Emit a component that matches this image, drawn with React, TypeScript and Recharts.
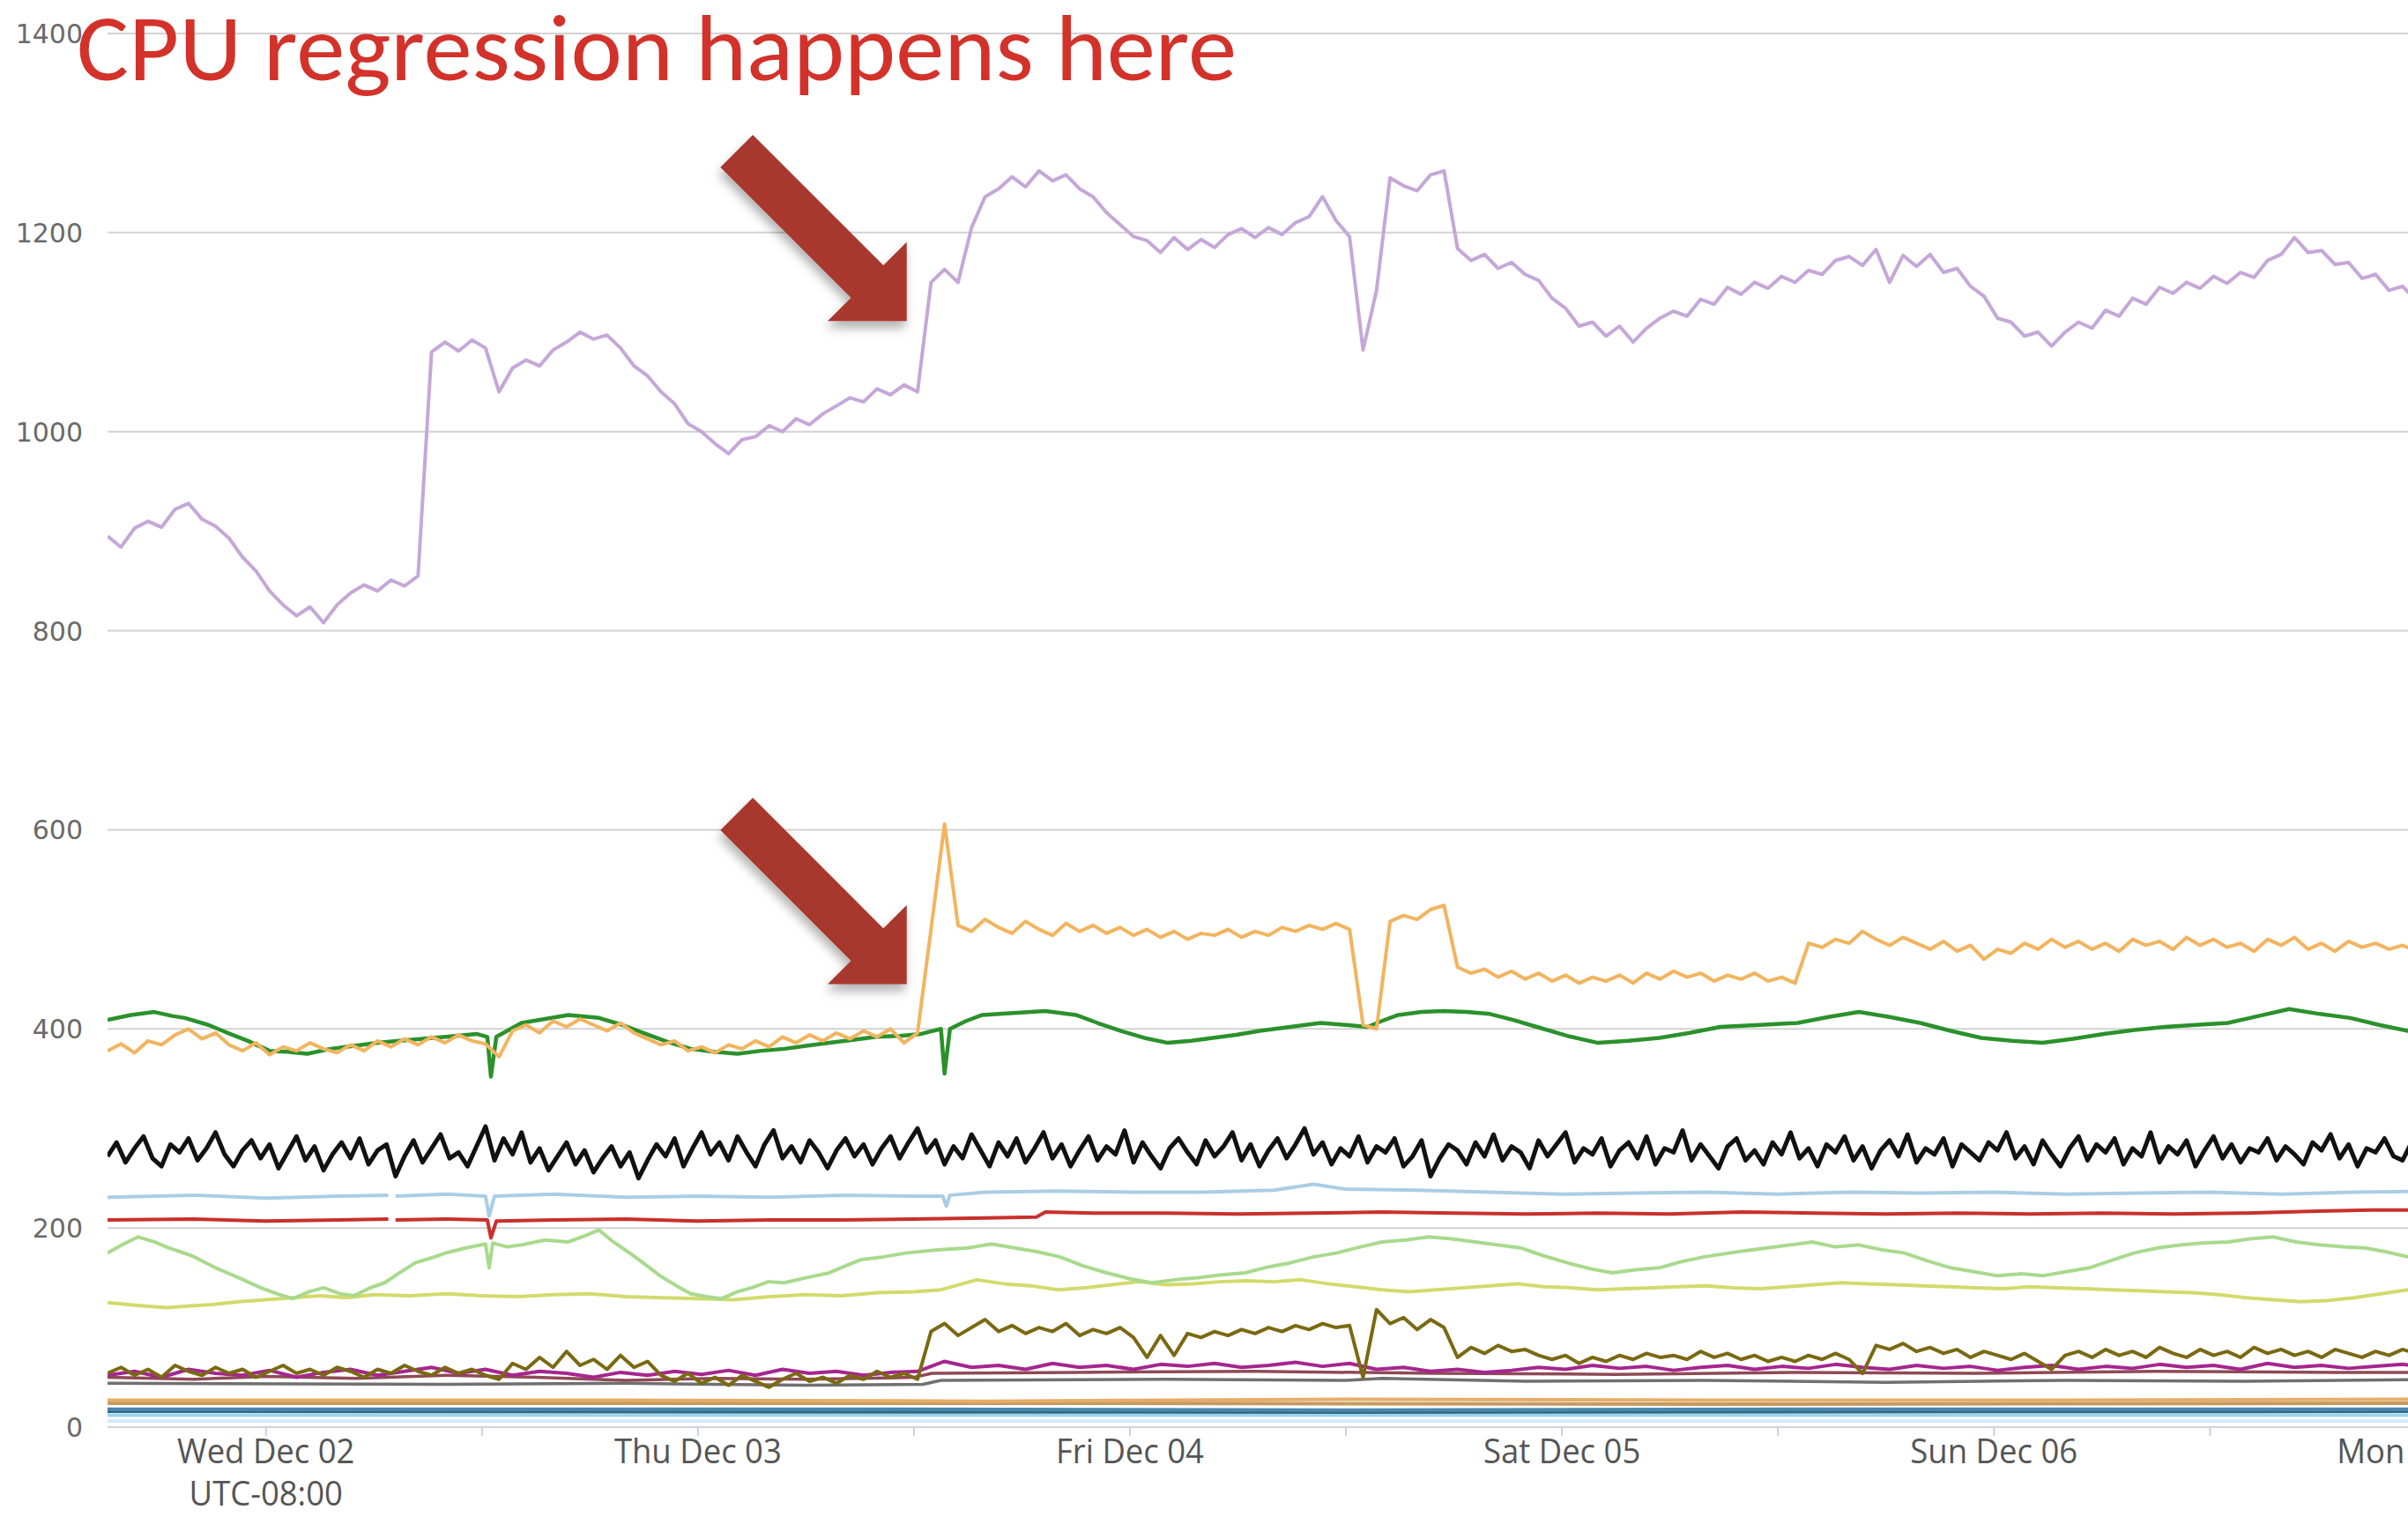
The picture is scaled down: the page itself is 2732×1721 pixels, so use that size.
import React from 'react';
import { LineChart, Line, XAxis, YAxis, CartesianGrid, ReferenceDot } from 'recharts';

// ---- time grid (hours from Wed Dec 02 00:00 UTC-08:00) ----
const T0 = -8.8;
const STEP = 0.75;
const STEP_FINE = 0.5;
const STEP_WIDE = 1.5;

// ---- tick labels ----
const Y_TICKS = [0, 200, 400, 600, 800, 1000, 1200, 1400];
const X_TICKS = [0, 12, 24, 36, 48, 60, 72, 84, 96, 108, 120];
const DAY_LABELS: Record<number, string> = {
  0: 'Wed Dec 02',
  24: 'Thu Dec 03',
  48: 'Fri Dec 04',
  72: 'Sat Dec 05',
  96: 'Sun Dec 06',
  120: 'Mon Dec 07',
};
const TZ_LABEL = 'UTC-08:00';
const TITLE = 'CPU regression happens here';

// ---- series values (regular 0.75h grid) ----
const purpleValues = [
  895, 884, 903, 910, 904, 922, 928, 912, 905, 893, 874, 860, 840, 826, 815, 824, 808, 826, 838, 846, 840, 851, 845, 855,
  1080, 1090, 1081, 1092, 1084, 1040, 1064, 1072, 1066, 1082, 1090, 1100, 1093, 1097, 1084, 1066, 1056, 1040, 1028, 1008,
  1000, 988, 978, 992, 995, 1006, 1000, 1013, 1007, 1018, 1026, 1034, 1030, 1043, 1037, 1047, 1040,
  1150, 1163, 1150, 1205, 1236, 1244, 1256, 1246, 1262, 1252, 1258, 1244, 1236, 1220, 1208, 1196, 1192, 1180, 1195, 1183,
  1193, 1185, 1198, 1204, 1195, 1205, 1198, 1210, 1216, 1236, 1212, 1196, 1082, 1142,
  1255, 1247, 1242, 1258, 1262, 1184, 1172, 1178, 1164, 1170, 1158, 1152, 1134, 1124, 1106, 1110, 1096, 1106, 1090, 1104,
  1114, 1121, 1116, 1133, 1128, 1145, 1138, 1150, 1144, 1156, 1150, 1162, 1158, 1172, 1176, 1167, 1183, 1150, 1177, 1166,
  1178, 1160, 1164, 1146, 1136, 1114, 1110, 1096, 1100, 1086, 1100, 1110, 1104, 1122, 1116, 1134, 1128, 1145, 1139, 1150,
  1144, 1156, 1149, 1160, 1155, 1172, 1178, 1195, 1180, 1182, 1168, 1170, 1154, 1158, 1142, 1146, 1132,
];

const orangeValues = [
  378, 385, 376, 388, 384, 394, 400, 390, 396, 384, 378, 386, 374, 382, 378, 386, 380, 376, 384, 378, 388, 382, 390, 384,
  392, 386, 394, 388, 385, 372, 398, 404, 396, 408, 402, 410, 404, 398, 406, 396, 390, 384, 388, 378,
  382, 376, 384, 380, 388, 382, 392, 386, 394, 388, 396, 390, 398, 392, 400, 386, 396,
  500, 606, 504, 498, 510, 502, 496, 508, 500, 494, 506, 498, 504, 496, 502, 494, 500, 492, 498, 490,
  496, 494, 500, 492, 498, 494, 502, 498, 504, 500, 506, 500, 404, 400,
  508, 514, 510, 520, 524, 462, 456, 460, 452, 458, 450, 456, 448, 454, 446, 452, 448, 454, 446, 456,
  450, 458, 452, 456, 448, 454, 450, 456, 448, 452, 446, 486, 482, 490, 486, 498, 490, 484, 492, 486,
  480, 488, 478, 484, 470, 480, 476, 486, 480, 490, 482, 488, 480, 486, 478, 490, 484, 488, 480, 492,
  484, 490, 482, 486, 478, 490, 484, 492, 480, 486, 478, 488, 482, 486, 480, 484, 478,
];

const oliveValues = [
  54, 60, 52, 58, 50, 62, 56, 52, 60, 54, 58, 50, 56, 62, 54, 58, 52, 60, 56, 50, 58, 54, 62, 56, 52, 60, 54, 58, 52,
  48, 64, 58, 70, 60, 76, 62, 68, 58, 72, 60, 66,
  52, 46, 54, 44, 50, 42, 52, 46, 40, 48, 54, 46, 50, 44, 52, 48, 56, 50, 54, 48,
  96, 104, 92, 100, 108, 96, 102, 94, 100, 96, 104, 92, 98, 94, 100, 90, 70, 92, 72, 94,
  90, 96, 92, 98, 94, 100, 96, 102, 98, 104, 100, 102, 50, 118, 104, 110, 98, 108, 100, 70,
  80, 74, 82, 76, 78, 72, 68, 72, 64, 70, 66, 72, 68, 74, 70, 72, 68, 76, 70, 74,
  68, 72, 66, 70, 66, 72, 68, 74, 68, 54, 82, 78, 84, 76, 80, 74, 78, 70, 76, 72,
  68, 74, 66, 58, 72, 76, 70, 78, 72, 76, 70, 80, 74, 70, 78, 72, 76, 70, 80, 74,
  78, 72, 76, 70, 78, 74, 70, 76, 72, 78, 74,
];

// ---- series values (regular 0.5h grid) ----
const blackValues = [
  272, 286, 266, 280, 292, 270, 262, 284, 276, 290,
  268, 280, 296, 274, 262, 278, 288, 270, 284, 260,
  276, 292, 268, 282, 258, 274, 286, 270, 290, 264,
  278, 284, 252, 272, 288, 266, 280, 294, 270, 276,
  262, 282, 302, 268, 290, 274, 296, 266, 280, 258,
  272, 286, 264, 278, 256, 270, 282, 262, 276, 250,
  268, 284, 272, 290, 262, 280, 296, 274, 286, 268,
  292, 276, 262, 284, 298, 270, 282, 266, 288, 276,
  260, 278, 290, 272, 284, 264, 280, 292, 270, 286,
  300, 276, 288, 264, 282, 270, 294, 278, 262, 286,
  272, 290, 266, 280, 296, 270, 284, 262, 278, 292,
  268, 282, 274, 298, 266, 286, 272, 260, 280, 290,
  276, 264, 288, 272, 282, 296, 268, 284, 262, 278,
  290, 270, 284, 300, 274, 286, 264, 280, 272, 292,
  266, 282, 276, 290, 262, 272, 288, 252, 270, 284,
  278, 264, 286, 272, 294, 268, 282, 276, 260, 288,
  272, 284, 296, 266, 280, 274, 290, 262, 278, 286,
  270, 292, 264, 280, 276, 298, 268, 284, 272, 260,
  282, 290, 268, 278, 264, 286, 274, 296, 270, 280,
  262, 284, 276, 292, 268, 282, 260, 278, 288, 272,
  294, 266, 280, 274, 290, 262, 284, 276, 268, 286,
  278, 296, 270, 282, 264, 288, 274, 262, 280, 292,
  268, 284, 276, 290, 264, 280, 272, 296, 266, 282,
  274, 288, 262, 278, 292, 270, 284, 266, 280, 276,
  290, 268, 282, 274, 264, 286, 278, 294, 270, 284,
  262, 280, 276, 290, 272, 268, 286, 280, 274, 288,
];

// ---- series values (regular 1.5h grid) ----
const magentaValues = [
  52, 56, 50, 58, 54, 52, 57, 50, 55, 58, 52, 56, 60, 54, 58, 52, 56, 54, 50, 55, 52, 56, 53, 57, 52, 58, 54, 56, 52, 55, 56,
  66,
  60, 62, 58, 64, 60, 62, 58, 63, 61, 64, 60, 62, 65, 61, 64, 58, 60, 56, 58, 55, 57, 60, 58, 62, 59, 61, 57, 60, 62, 58,
  61, 59, 63, 60, 58, 62, 59, 61, 57, 60, 62, 58, 61, 59, 63, 60, 62, 58, 64, 60, 62, 59, 61, 63, 60,
];

// ---- series values ([hour, value] pairs) ----
const greenPoints: [number, number][] = [
  [-8.8, 409], [-7.5, 414], [-6.2, 417], [-5.2, 413], [-4.5, 411], [-3.2, 404], [-2.0, 395], [-1.0, 388], [0.2, 378],
  [1.2, 377], [2.3, 375], [3.6, 380], [4.9, 383], [6.2, 386], [7.4, 388], [8.7, 390], [10.0, 392], [11.7, 395],
  [12.3, 392], [12.5, 352], [12.8, 392], [14.2, 406], [15.5, 410], [16.8, 414], [18.5, 411], [19.8, 404], [21.1, 395],
  [22.3, 387], [23.6, 380], [24.9, 377], [26.2, 375], [27.5, 378], [28.8, 380], [30.0, 383], [31.3, 386], [32.6, 389],
  [33.9, 392], [35.2, 393], [36.4, 395], [37.5, 400], [37.7, 355], [38.0, 400], [38.9, 408], [39.8, 414], [41.5, 416],
  [43.3, 418], [45.0, 414], [46.2, 406], [47.5, 398], [48.8, 391], [50.1, 386], [51.4, 388], [52.6, 391], [53.9, 394],
  [55.2, 398], [56.9, 402], [58.6, 406], [60.0, 404], [61.2, 402], [62.0, 408], [62.9, 414], [64.2, 417], [65.4, 418],
  [66.7, 417], [68.0, 415], [69.3, 409], [70.6, 402], [72.3, 393], [74.0, 386], [75.7, 388], [77.4, 391], [79.1, 396],
  [80.8, 402], [83.0, 404], [85.1, 406], [86.8, 412], [88.5, 417], [90.2, 412], [91.9, 406], [93.6, 398], [95.3, 391],
  [97.0, 388], [98.7, 386], [100.4, 390], [102.1, 395], [103.8, 399], [105.5, 402], [107.2, 404], [109.0, 406],
  [110.7, 413], [112.4, 420], [114.1, 415], [115.8, 411], [117.4, 404], [119.0, 398], [120.5, 395],
];

const lightBluePoints: [number, number | null][] = [
  [-8.8, 231], [-4, 233], [0, 230], [4, 232], [6.8, 233], [7.0, null], [7.2, 232], [10, 234], [12.2, 232], [12.4, 212],
  [12.7, 232], [16, 234], [20, 231], [24, 232], [28, 231], [32, 233], [36, 232], [37.6, 232], [37.8, 222], [38.0, 233],
  [40, 236], [44, 237], [48, 236], [52, 236], [56, 238], [58.2, 244], [60, 239], [64, 238], [68, 236], [72, 234],
  [76, 235], [80, 236], [84, 234], [88, 236], [92, 235], [96, 236], [100, 234], [104, 235], [108, 236], [112, 234],
  [116, 236], [121, 237],
];

const redPoints: [number, number | null][] = [
  [-8.8, 208], [-4, 209], [0, 207], [4, 208], [6.8, 209], [7.0, null], [7.2, 208], [10, 209], [12.3, 208], [12.5, 190],
  [12.8, 207], [16, 208], [20, 209], [24, 207], [28, 208], [32, 208], [36, 209], [40, 210], [42.8, 211], [43.3, 216],
  [46, 215], [50, 215], [54, 214], [58, 215], [62, 216], [66, 215], [70, 214], [74, 215], [78, 214], [82, 216],
  [86, 215], [90, 214], [94, 215], [98, 214], [102, 215], [106, 214], [110, 215], [114, 217], [117, 218], [121, 218],
];

const lightGreenPoints: [number, number][] = [
  [-8.8, 175], [-7.9, 184], [-7.1, 191], [-6.2, 186], [-5.4, 180], [-4.1, 172], [-2.8, 160], [-1.5, 150], [-0.3, 140],
  [0.6, 134], [1.5, 129], [2.4, 136], [3.2, 140], [4.1, 134], [4.9, 132], [5.8, 140], [6.6, 145], [7.5, 156],
  [8.3, 165], [9.2, 170], [10.0, 175], [11.1, 180], [12.2, 184], [12.4, 160], [12.6, 185], [13.4, 181], [14.2, 183],
  [15.5, 188], [16.8, 186], [17.7, 192], [18.5, 198], [19.3, 186], [20.2, 175], [21.1, 163], [21.9, 152], [22.8, 142],
  [23.6, 134], [24.5, 131], [25.3, 129], [26.2, 136], [27.0, 140], [27.9, 146], [28.8, 145], [30.0, 150], [31.3, 155],
  [32.2, 162], [33.0, 168], [34.3, 171], [35.6, 175], [37.3, 178], [39.0, 180], [40.3, 184], [41.6, 180], [42.9, 176],
  [44.1, 171], [45.4, 162], [46.7, 155], [48.0, 149], [49.2, 145], [50.5, 148], [51.8, 150], [53.1, 153], [54.4, 155],
  [55.7, 161], [56.9, 165], [58.2, 171], [59.5, 175], [60.8, 181], [62.0, 186], [63.3, 188], [64.6, 191], [65.9, 189],
  [67.2, 186], [68.4, 183], [69.7, 180], [71.0, 172], [72.3, 165], [73.6, 159], [74.8, 155], [76.1, 158], [77.4, 160],
  [78.6, 166], [79.9, 171], [81.7, 176], [83.4, 180], [84.7, 183], [85.9, 186], [87.2, 181], [88.5, 183], [89.8, 178],
  [91.0, 175], [92.3, 167], [93.6, 160], [94.9, 156], [96.2, 152], [97.5, 154], [98.7, 152], [100.0, 156], [101.3, 160],
  [102.6, 168], [103.8, 175], [105.1, 180], [106.4, 183], [107.7, 185], [109.0, 186], [110.2, 189], [111.5, 191],
  [112.8, 186], [114.1, 183], [115.4, 181], [116.6, 180], [117.8, 176], [119.0, 171], [120.5, 168],
];

const yellowPoints: [number, number][] = [
  [-8.8, 125], [-7.0, 122], [-5.5, 120], [-4.0, 122], [-3.0, 123], [-1.5, 126], [0, 128], [1.5, 130], [3, 132],
  [4.5, 130], [6, 133], [8, 132], [10, 134], [12, 132], [14, 131], [16, 133], [18, 134], [20, 131], [22, 130],
  [24, 129], [26, 128], [28, 131], [30, 133], [32, 132], [34, 135], [36, 136], [37.5, 138], [39.5, 148], [41, 144],
  [42.5, 142], [44, 138], [45.5, 140], [47, 143], [48.5, 146], [50, 143], [51.5, 144], [53, 146], [54.5, 147],
  [56, 146], [57.5, 148], [59, 144], [60.5, 141], [62, 138], [63.5, 136], [65, 138], [66.5, 140], [68, 142],
  [69.5, 144], [71, 141], [72.5, 140], [74, 138], [75.5, 139], [77, 140], [78.5, 141], [80, 142], [81.5, 140],
  [83, 139], [84.5, 141], [86, 143], [87.5, 145], [89, 144], [90.5, 143], [92, 142], [93.5, 141], [95, 140],
  [96.5, 139], [98, 141], [99.5, 140], [101, 139], [102.5, 138], [104, 137], [105.5, 136], [107, 135], [108.5, 133],
  [110, 130], [111.5, 128], [113, 126], [114.5, 127], [116, 130], [117.5, 134], [119, 138], [120.5, 140],
];

const maroonPoints: [number, number][] = [
  [-8.8, 50], [-4, 48], [0, 51], [5, 49], [10, 52], [15, 50], [20, 47], [25, 49], [30, 48], [36, 50], [37, 54],
  [45, 55], [55, 56], [65, 54], [75, 53], [85, 55], [95, 54], [105, 56], [115, 55], [121, 55],
];

const grayPoints: [number, number][] = [
  [-8.8, 44], [10, 43], [20, 44], [30, 42], [36.5, 43], [37.5, 47], [50, 48], [60, 47], [62, 49], [70, 46],
  [80, 47], [90, 45], [100, 47], [110, 46], [121, 48],
];

const tanPoints: [number, number][] = [[-8.8, 27], [20, 27], [40, 26], [60, 28], [80, 27], [100, 27], [121, 28]];
const brownTanPoints: [number, number][] = [[-8.8, 24], [40, 24], [80, 23], [121, 24]];
const steelPoints: [number, number][] = [[-8.8, 18], [30, 18], [60, 17], [90, 18], [121, 18]];
const tealPoints: [number, number][] = [[-8.8, 16], [60, 15], [121, 16]];
const skyPoints: [number, number][] = [[-8.8, 12], [60, 12], [121, 12]];
const palePoints: [number, number][] = [[-8.8, 6], [121, 6]];

// ---- annotation anchors (data coordinates of the arrow tips) ----
const ARROW_T = 35.6;
const ARROW_UPPER_V = 1111;
const ARROW_LOWER_V = 445;

// ---- helpers ----
const onGrid = (vals: number[], step: number) =>
  vals.map((v, i) => ({ t: Math.round((T0 + i * step) * 100) / 100, v }));
const fromPairs = (pairs: [number, number | null][]) => pairs.map(([t, v]) => ({ t, v }));

const purpleData = onGrid(purpleValues, STEP);
const orangeData = onGrid(orangeValues, STEP);
const blackData = onGrid(blackValues, STEP_FINE);
const oliveData = onGrid(oliveValues, STEP);
const magentaData = onGrid(magentaValues, STEP_WIDE);

// ---- layout ----
const W = 2732;
const H = 1721;
const CHART_W = 2879;
const X_DOMAIN: [number, number] = [-8.8, 126.2];

const YTick = (props: any) => {
  const { x, y, payload } = props;
  return (
    <text x={x} y={y} dy={11} textAnchor="end" fontFamily="'DejaVu Sans', Verdana, sans-serif" fontSize={30} fill="#6a6a6a">
      {payload.value}
    </text>
  );
};

const XTick = (props: any) => {
  const { x, y, payload } = props;
  const label = DAY_LABELS[payload.value];
  if (!label) return null;
  const ff = "'Open Sans', sans-serif";
  return (
    <g transform={`translate(${x},${y}) scale(0.935,1)`}>
      <text x={0} y={0} dy={31} textAnchor="middle" fontFamily={ff} fontSize={39} fill="#555">
        {label}
      </text>
      {payload.value === 0 && (
        <text x={0} y={0} dy={79} textAnchor="middle" fontFamily={ff} fontSize={39} fill="#555">
          {TZ_LABEL}
        </text>
      )}
    </g>
  );
};

const ArrowShape = (props: any) => {
  const { cx, cy } = props;
  if (cx == null || cy == null) return null;
  const headLen = 63.5;
  const headHalf = 63.5;
  const shaftHalf = 26;
  const total = 273;
  const d = [Math.SQRT1_2, Math.SQRT1_2];
  const n = [-Math.SQRT1_2, Math.SQRT1_2];
  const p = (a: number, b: number) => `${cx + d[0] * a + n[0] * b},${cy + d[1] * a + n[1] * b}`;
  const pts = [
    p(0, 0),
    p(-headLen, headHalf),
    p(-headLen, shaftHalf),
    p(-total, shaftHalf),
    p(-total, -shaftHalf),
    p(-headLen, -shaftHalf),
    p(-headLen, -headHalf),
  ].join(' ');
  return (
    <g>
      <defs>
        <filter id="arrowShadow" x="-30%" y="-30%" width="160%" height="160%">
          <feDropShadow dx="-2" dy="8" stdDeviation="6" floodColor="#000" floodOpacity="0.3" />
        </filter>
      </defs>
      <polygon points={pts} fill="#a8382e" filter="url(#arrowShadow)" />
    </g>
  );
};

const lineCommon = {
  type: 'linear' as const,
  dataKey: 'v',
  dot: false,
  activeDot: false,
  isAnimationActive: false,
  strokeLinejoin: 'round' as const,
  connectNulls: false,
};

export default function App() {
  return (
    <div style={{ position: 'relative', width: W, height: H, overflow: 'hidden', background: '#fff' }}>
      <style>{'html,body{margin:0;padding:0;background:#fff;overflow:hidden}'}</style>
      <LineChart width={CHART_W} height={H} margin={{ top: 38, right: 0, bottom: 0, left: 0 }}>
        <CartesianGrid horizontal vertical={false} stroke="#d2d2d2" strokeWidth={2} />
        <XAxis
          type="number"
          dataKey="t"
          domain={X_DOMAIN}
          ticks={X_TICKS}
          interval={0}
          allowDataOverflow
          height={102}
          axisLine={{ stroke: '#cdd2da', strokeWidth: 2 }}
          tickLine={{ stroke: '#cdd2da', strokeWidth: 2 }}
          tickSize={10}
          tickMargin={0}
          tick={<XTick />}
        />
        <YAxis
          type="number"
          domain={[0, 1400]}
          ticks={Y_TICKS}
          interval={0}
          allowDataOverflow
          width={122}
          axisLine={false}
          tickLine={false}
          tickSize={0}
          tickMargin={28}
          tick={<YTick />}
        />
        <Line {...lineCommon} data={fromPairs(palePoints)} stroke="#d5ebf7" strokeWidth={4} />
        <Line {...lineCommon} data={fromPairs(skyPoints)} stroke="#9dd4f0" strokeWidth={4} />
        <Line {...lineCommon} data={fromPairs(tealPoints)} stroke="#2f6c80" strokeWidth={4} />
        <Line {...lineCommon} data={fromPairs(steelPoints)} stroke="#4a86ad" strokeWidth={4} />
        <Line {...lineCommon} data={fromPairs(brownTanPoints)} stroke="#c59a60" strokeWidth={4} />
        <Line {...lineCommon} data={fromPairs(tanPoints)} stroke="#e6ad68" strokeWidth={4} />
        <Line {...lineCommon} data={fromPairs(grayPoints)} stroke="#707070" strokeWidth={3.5} />
        <Line {...lineCommon} data={fromPairs(maroonPoints)} stroke="#8e4a55" strokeWidth={3.5} />
        <Line {...lineCommon} data={magentaData} stroke="#a5268e" strokeWidth={4} />
        <Line {...lineCommon} data={oliveData} stroke="#7a6912" strokeWidth={4} />
        <Line {...lineCommon} data={fromPairs(yellowPoints)} stroke="#d3da6c" strokeWidth={4} />
        <Line {...lineCommon} data={fromPairs(lightGreenPoints)} stroke="#a8da8c" strokeWidth={4} />
        <Line {...lineCommon} data={fromPairs(redPoints)} stroke="#c9302c" strokeWidth={4} />
        <Line {...lineCommon} data={fromPairs(lightBluePoints)} stroke="#aacde6" strokeWidth={4} />
        <Line {...lineCommon} data={blackData} stroke="#111111" strokeWidth={5} />
        <Line {...lineCommon} data={fromPairs(greenPoints)} stroke="#2b912b" strokeWidth={4.5} />
        <Line {...lineCommon} data={orangeData} stroke="#f2b45e" strokeWidth={4} />
        <Line {...lineCommon} data={purpleData} stroke="#c5a7d9" strokeWidth={4} />
        <ReferenceDot x={ARROW_T} y={ARROW_UPPER_V} r={0} ifOverflow="visible" shape={(p: any) => <ArrowShape {...p} />} />
        <ReferenceDot x={ARROW_T} y={ARROW_LOWER_V} r={0} ifOverflow="visible" shape={(p: any) => <ArrowShape {...p} />} />
      </LineChart>
      <svg style={{ position: 'absolute', left: 0, top: 0, pointerEvents: 'none' }} width={W} height={200}>
        <text
          x={87}
          y={91}
          fontFamily="Carlito, Lato, 'Open Sans', sans-serif"
          fontSize={106}
          fill="#d2322a"
          textLength={1316}
          lengthAdjust="spacingAndGlyphs"
        >
          {TITLE}
        </text>
      </svg>
    </div>
  );
}
